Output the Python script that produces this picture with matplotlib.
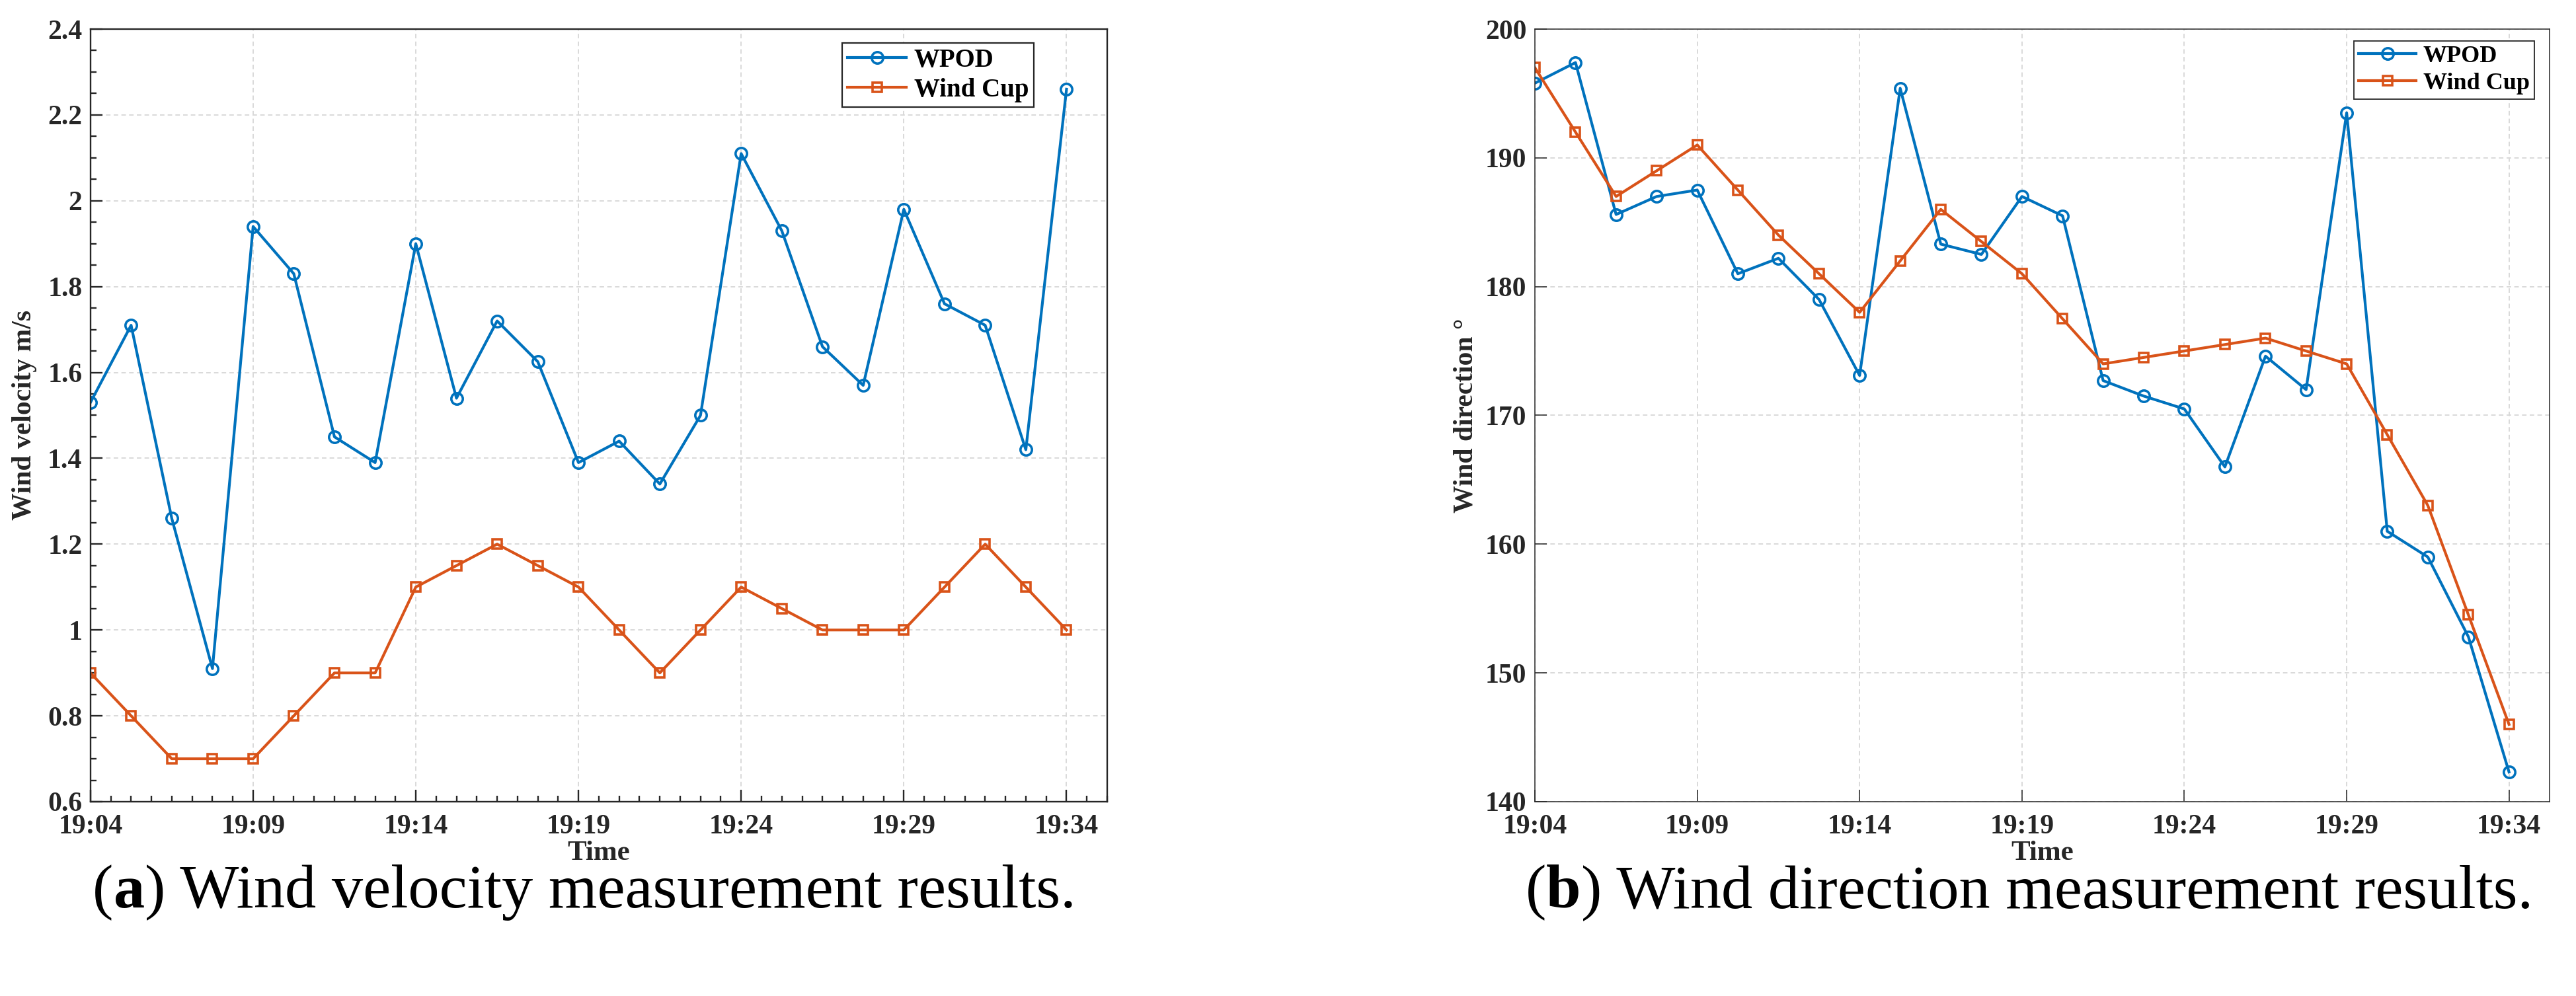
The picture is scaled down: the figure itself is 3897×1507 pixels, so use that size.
import numpy as np
import matplotlib
matplotlib.use('Agg')
import matplotlib.pyplot as plt
from matplotlib.ticker import MultipleLocator, FormatStrFormatter
from matplotlib.offsetbox import TextArea, HPacker, AnchoredOffsetbox

plt.rcParams['font.family'] = ['Liberation Serif', 'DejaVu Serif']
plt.rcParams['font.weight'] = 'bold'

# data: one sample every 1.25 min, 19:04 - 19:34
time_labels = ['19:04', '19:09', '19:14', '19:19', '19:24', '19:29', '19:34']
wpod_speed = [1.53, 1.71, 1.26, 0.91, 1.94, 1.83, 1.45, 1.39, 1.90, 1.54, 1.72, 1.625,
              1.39, 1.44, 1.34, 1.50, 2.11, 1.93, 1.66, 1.57, 1.98, 1.76, 1.71, 1.42, 2.26]
cup_speed = [0.9, 0.8, 0.7, 0.7, 0.7, 0.8, 0.9, 0.9, 1.1, 1.15, 1.2, 1.15,
             1.1, 1.0, 0.9, 1.0, 1.1, 1.05, 1.0, 1.0, 1.0, 1.1, 1.2, 1.1, 1.0]
wpod_dir = [195.8, 197.4, 185.6, 187.0, 187.5, 181.0, 182.2, 179.0, 173.1, 195.4, 183.3, 182.5,
            187.0, 185.5, 172.7, 171.5, 170.5, 166.0, 174.6, 172.0, 193.5, 161.0, 159.0, 152.8, 142.3]
cup_dir = [197.0, 192.0, 187.0, 189.0, 191.0, 187.5, 184.0, 181.0, 178.0, 182.0, 186.0, 183.5,
           181.0, 177.5, 174.0, 174.5, 175.0, 175.5, 176.0, 175.0, 174.0, 168.5, 163.0, 154.5, 146.0]

BLUE = '#0072BD'
ORANGE = '#D95319'
DARK = '#262626'
TICK_SIZE = 30

x = np.arange(len(wpod_speed))

fig = plt.figure(figsize=(38.98, 15.07), dpi=100)
ax1 = fig.add_axes([0.0351, 0.1951, 0.3946, 0.7757])
ax2 = fig.add_axes([0.5957, 0.1951, 0.3938, 0.7757])


def style_axes(ax, spine_w, minor):
    for s in ax.spines.values():
        s.set_linewidth(spine_w)
        s.set_color(DARK)
    ax.tick_params(which='both', direction='in', top=False, right=False,
                   colors=DARK, labelsize=TICK_SIZE, width=spine_w)
    ax.tick_params(which='major', length=13)
    ax.tick_params(axis='x', which='major', pad=14)
    ax.tick_params(axis='y', which='major', pad=9)
    if minor:
        ax.tick_params(which='minor', length=6.5)
    ax.grid(True, which='major', color='#d9d9d9', lw=1.4, ls=(0, (3.5, 2.5)))
    ax.set_axisbelow(True)
    ax.set_xlim(0, 25)
    ax.set_xticks(np.arange(0, 25, 4))
    ax.set_xticklabels(time_labels)
    for lab in ax.get_xticklabels() + ax.get_yticklabels():
        lab.set_fontweight('bold')
    ax.set_xlabel('Time', fontsize=31, fontweight='bold', color=DARK)
    ax.xaxis.label.set_va('center')
    ax.xaxis.set_label_coords(0.5, -0.067)


line_kw = dict(lw=3.0)
circ_kw = dict(marker='o', ms=12.5, mew=2.6, mfc='none')
sq_kw = dict(marker='s', ms=9.5, mew=2.6, mfc='none')

# (a) wind velocity
ax1.plot(x, wpod_speed, color=BLUE, label='WPOD', **line_kw, **circ_kw)
ax1.plot(x, cup_speed, color=ORANGE, label='Wind Cup', **line_kw, **sq_kw)
ax1.set_ylim(0.6, 2.4)
ax1.yaxis.set_major_locator(MultipleLocator(0.2))
ax1.yaxis.set_major_formatter(FormatStrFormatter('%g'))
ax1.yaxis.set_minor_locator(MultipleLocator(0.05))
ax1.xaxis.set_minor_locator(MultipleLocator(0.5))
style_axes(ax1, 1.7, True)
ax1.set_ylabel('Wind velocity m/s', fontsize=30, fontweight='bold', color=DARK)
ax1.yaxis.set_label_coords(-0.0527, 0.5)
leg1 = ax1.legend(loc='upper right', bbox_to_anchor=(0.928, 0.982),
                  prop={'weight': 'bold', 'size': 28}, fancybox=False, framealpha=1,
                  edgecolor=DARK, borderpad=0.2, labelspacing=0.2, handlelength=2.3,
                  handletextpad=0.3, borderaxespad=0)
leg1.get_frame().set_linewidth(1.6)

# (b) wind direction
ax2.plot(x, wpod_dir, color=BLUE, label='WPOD', **line_kw, **circ_kw)
ax2.plot(x, cup_dir, color=ORANGE, label='Wind Cup', **line_kw, **sq_kw)
ax2.set_ylim(140, 200)
ax2.yaxis.set_major_locator(MultipleLocator(10))
style_axes(ax2, 1.1, False)
ax2.set_ylabel('Wind direction °', fontsize=30, fontweight='bold', color=DARK)
ax2.yaxis.set_label_coords(-0.0554, 0.5)
leg2 = ax2.legend(loc='upper right', bbox_to_anchor=(0.985, 0.985),
                  prop={'weight': 'bold', 'size': 26}, fancybox=False, framealpha=1,
                  edgecolor=DARK, borderpad=0.2, labelspacing=0.2, handlelength=2.4,
                  handletextpad=0.3, borderaxespad=0)
leg2.get_frame().set_linewidth(1.3)


# sub-captions with bold letter
def caption(letter, text, xf, yf):
    cap_size = 68
    parts = [TextArea('(', textprops=dict(size=cap_size, weight='normal', color='black')),
             TextArea(letter, textprops=dict(size=cap_size, weight='bold', color='black')),
             TextArea(') ' + text, textprops=dict(size=cap_size, weight='normal', color='black'))]
    box = HPacker(children=parts, align='baseline', pad=0, sep=0)
    anch = AnchoredOffsetbox(loc='center left', child=box, pad=0, borderpad=0, frameon=False,
                             bbox_to_anchor=(xf, yf), bbox_transform=fig.transFigure)
    fig.add_artist(anch)


caption('a', 'Wind velocity measurement results.', 0.036, 0.104)
caption('b', 'Wind direction measurement results.', 0.592, 0.104)

fig.savefig('out.png', dpi=100)
